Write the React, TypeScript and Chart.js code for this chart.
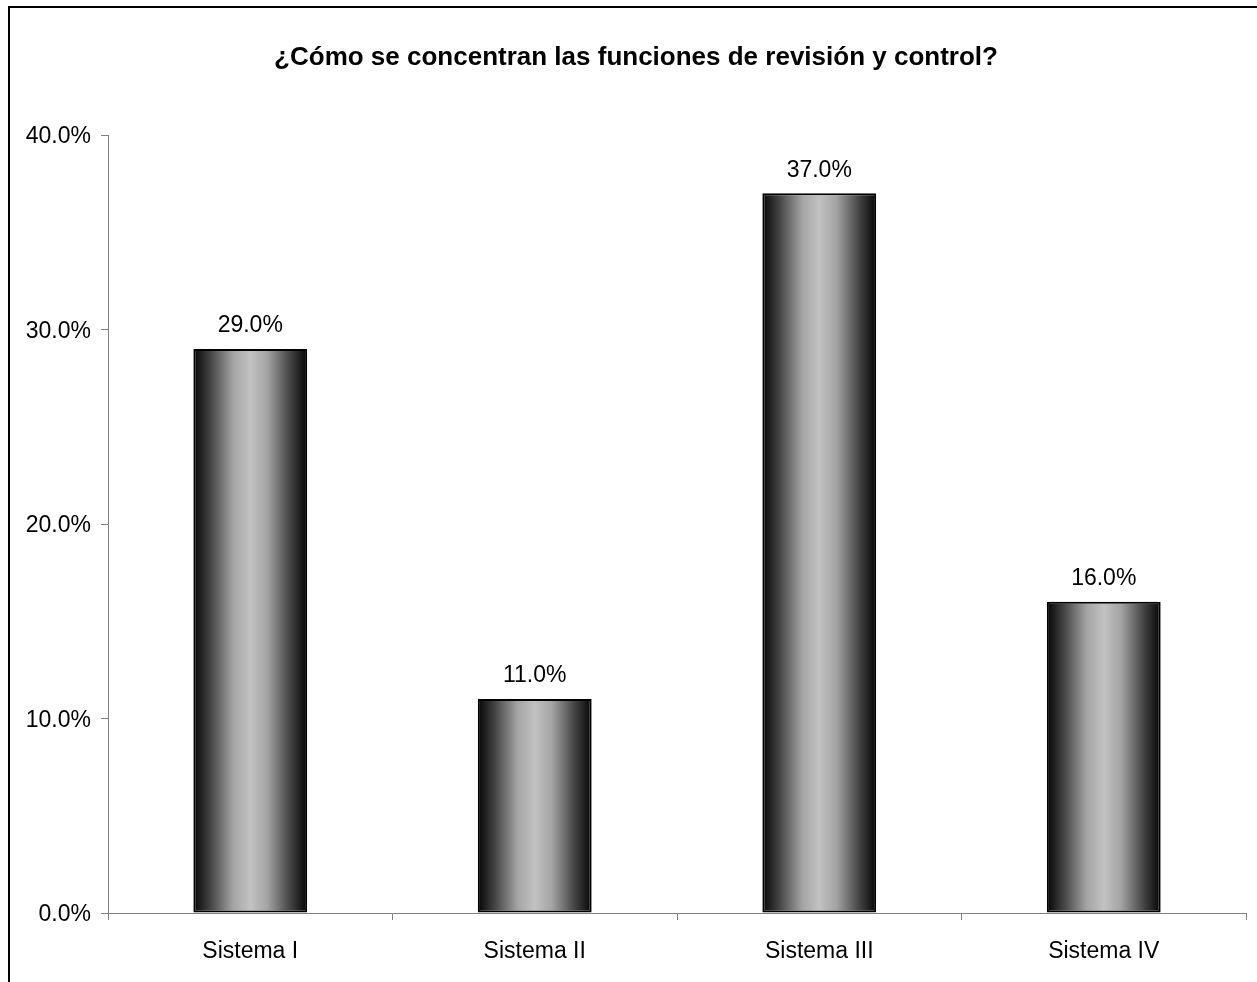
import React, { useEffect, useRef } from "react";
import { Chart, registerables } from "chart.js";

Chart.register(...registerables);

const categories = ["Sistema I", "Sistema II", "Sistema III", "Sistema IV"];
const values = [29.0, 11.0, 37.0, 16.0];
const yTicks = [0, 10, 20, 30, 40];
const titleText = "¿Cómo se concentran las funciones de revisión y control?";

const FONT = "'Liberation Sans', Arial, sans-serif";
const BAR_PCT = 0.4;

export default function App() {
  const ref = useRef<HTMLCanvasElement | null>(null);

  useEffect(() => {
    document.body.style.margin = "0";
    const canvas = ref.current;
    if (!canvas) return;

    const framePlugin = {
      id: "frame",
      beforeDraw(chart: any) {
        const c = chart.ctx;
        c.save();
        c.fillStyle = "#ffffff";
        c.fillRect(0, 0, chart.width, chart.height);
        c.strokeStyle = "#000000";
        c.lineWidth = 2;
        c.beginPath();
        c.moveTo(9, chart.height + 5);
        c.lineTo(9, 7);
        c.lineTo(chart.width + 5, 7);
        c.stroke();
        c.font = `bold 26px ${FONT}`;
        c.fillStyle = "#000000";
        c.textAlign = "center";
        c.textBaseline = "middle";
        c.fillText(titleText, 636, 58);
        c.restore();
      },
    };

    const labelPlugin = {
      id: "valueLabels",
      afterDatasetsDraw(chart: any) {
        const c = chart.ctx;
        const meta = chart.getDatasetMeta(0);
        c.save();
        c.font = `23px ${FONT}`;
        c.fillStyle = "#000000";
        c.textAlign = "center";
        c.textBaseline = "middle";
        meta.data.forEach((el: any, i: number) => {
          c.fillText(values[i].toFixed(1) + "%", el.x, el.y - 23);
        });
        c.restore();
      },
    };

    const chart = new Chart(canvas, {
      type: "bar",
      data: {
        labels: categories,
        datasets: [
          {
            data: values,
            backgroundColor: (ctx: any) => {
              const chart = ctx.chart;
              const xs = chart.scales?.x;
              if (ctx.dataIndex === undefined || !xs) return "#888888";
              const cx = xs.getPixelForValue(ctx.dataIndex);
              const w = (xs.width / categories.length) * BAR_PCT;
              if (!isFinite(cx) || !isFinite(w) || w <= 0) return "#888888";
              const g = chart.ctx.createLinearGradient(cx - w / 2, 0, cx + w / 2, 0);
              g.addColorStop(0, "#050505");
              g.addColorStop(0.15, "#444444");
              g.addColorStop(0.35, "#a4a4a4");
              g.addColorStop(0.5, "#c2c2c2");
              g.addColorStop(0.65, "#a4a4a4");
              g.addColorStop(0.85, "#444444");
              g.addColorStop(1, "#050505");
              return g;
            },
            borderColor: "#000000",
            borderWidth: 2,
            borderSkipped: false,
            categoryPercentage: 1,
            barPercentage: BAR_PCT,
          },
        ],
      },
      options: {
        responsive: false,
        animation: false,
        layout: { padding: { left: 0, right: 11, top: 135, bottom: 0 } },
        plugins: {
          legend: { display: false },
          tooltip: { enabled: false },
          title: { display: false },
        },
        scales: {
          x: {
            grid: {
              display: true,
              drawOnChartArea: false,
              drawTicks: true,
              tickLength: 7,
              tickColor: "#808080",
              offset: true,
            },
            border: { display: true, color: "#808080", width: 1 },
            ticks: {
              color: "#000000",
              font: { family: FONT, size: 23 },
              padding: 18,
            },
            afterFit(scale: any) {
              scale.height = 69;
            },
          },
          y: {
            min: 0,
            max: 40,
            afterBuildTicks(scale: any) {
              scale.ticks = yTicks.map((v) => ({ value: v }));
            },
            grid: {
              display: true,
              drawOnChartArea: false,
              drawTicks: true,
              tickLength: 7,
              tickColor: "#808080",
            },
            border: { display: true, color: "#808080", width: 1 },
            ticks: {
              color: "#000000",
              font: { family: FONT, size: 23 },
              padding: 10,
              labelOffset: 2,
              callback: (v: any) => Number(v).toFixed(1) + "%",
            },
            afterFit(scale: any) {
              scale.width = 108;
            },
          },
        },
      },
      plugins: [framePlugin, labelPlugin],
    } as any);

    return () => chart.destroy();
  }, []);

  return (
    <div style={{ width: 1257, height: 982 }}>
      <canvas ref={ref} width={1257} height={982} style={{ display: "block" }} />
    </div>
  );
}
